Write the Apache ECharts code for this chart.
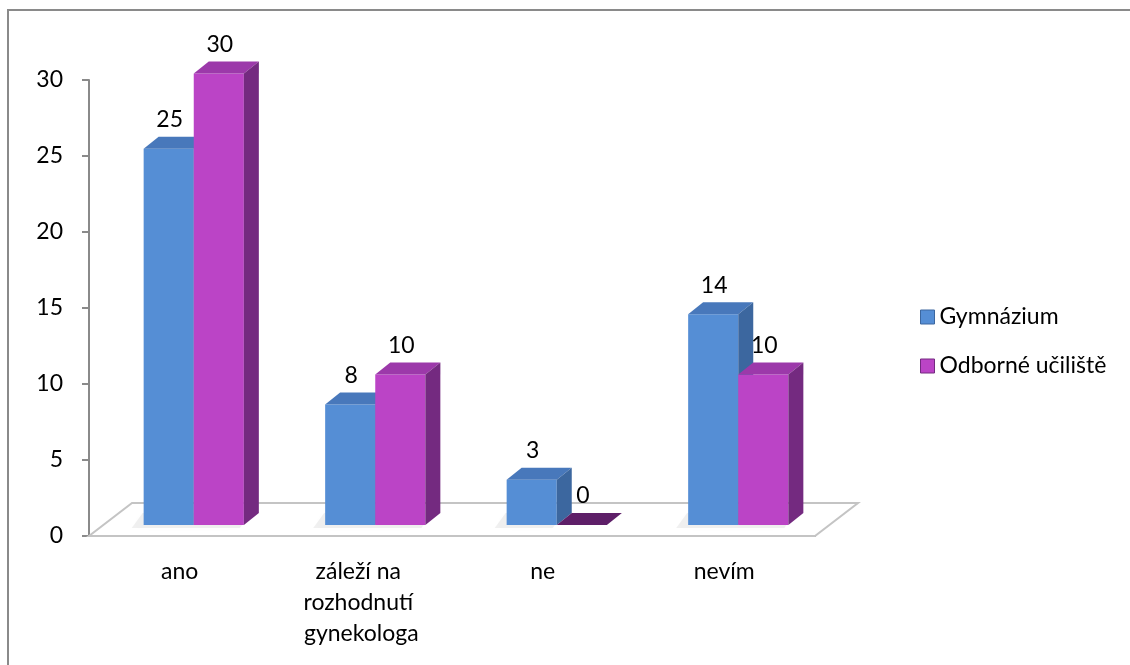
<!DOCTYPE html>
<html>
<head>
<meta charset="utf-8">
<script src="https://cdn.jsdelivr.net/npm/echarts@6/dist/echarts.min.js"></script>
<style>html,body{margin:0;padding:0;background:#fff}#c{width:1130px;height:665px}</style>
</head>
<body>
<div id="c"></div>
<script>
const categories = ['ano', 'záleží na rozhodnutí gynekologa', 'ne', 'nevím'];
const seriesNames = ['Gymnázium', 'Odborné učiliště'];
const gymnazium = [25, 8, 3, 14];
const odborne = [30, 10, 0, 10];
const yMin = 0, yMax = 30, yStep = 5;

const FONT = 'Lato';
const FS = 23;
const FRONT_DX = 14, FRONT_DY = -11;
const DEPTH_DX = 15, DEPTH_DY = -12;
const FLOOR_DX = 43, FLOOR_DY = -33;
const BAR_FRAC = 0.276;
const VAL_SCALE = 0.99;
const palette = [
  {front: '#558ED5', top: '#4878BB', side: '#3C679F', flat: '#2E4F7A'},
  {front: '#BB44C6', top: '#9C39AA', side: '#742A80', flat: '#5E1F68'}
];

function barGeom(params, api, side) {
  const idx = api.value(0), v = api.value(1);
  const base = api.coord([idx, 0]);
  const top = api.coord([idx, v]);
  const band = api.size([1, 0])[0];
  const bw = band * BAR_FRAC;
  const cx = base[0] + FRONT_DX;
  const x0 = side === 0 ? cx - bw : cx;
  const x1 = x0 + bw;
  const yb = base[1] + FRONT_DY;
  const yt = yb - (base[1] - top[1]) * VAL_SCALE;
  return {idx, v, x0, x1, yb, yt, bw};
}

function makeBarRenderer(side) {
  return function (params, api) {
    const g = barGeom(params, api, side);
    const c = palette[side];
    const children = [];
    const dx = DEPTH_DX, dy = DEPTH_DY;
    if (g.v === 0) {
      children.push({type: 'polygon', shape: {points: [[g.x0, g.yb], [g.x1, g.yb], [g.x1 + dx, g.yb + dy], [g.x0 + dx, g.yb + dy]]}, style: {fill: c.flat}});
    } else {
      children.push({type: 'rect', shape: {x: g.x0, y: g.yt, width: g.bw, height: g.yb - g.yt}, style: {fill: c.front}});
      children.push({type: 'polygon', shape: {points: [[g.x0, g.yt], [g.x1, g.yt], [g.x1 + dx, g.yt + dy], [g.x0 + dx, g.yt + dy]]}, style: {fill: c.top}});
      children.push({type: 'polygon', shape: {points: [[g.x1, g.yt], [g.x1 + dx, g.yt + dy], [g.x1 + dx, g.yb + dy], [g.x1, g.yb]]}, style: {fill: c.side}});
    }
    children.push({type: 'text', x: g.x0 + g.bw / 2 + 1, y: g.yt + dy - 17, style: {text: String(g.v), fill: '#000', font: FS + 'px ' + FONT, align: 'center', verticalAlign: 'middle'}});
    return {type: 'group', children};
  };
}

function shadowRenderer(params, api) {
  const idx = api.value(0);
  const base = api.coord([idx, 0]);
  const band = api.size([1, 0])[0];
  const bw = band * BAR_FRAC;
  const cx = base[0] + FRONT_DX;
  const x0 = cx - bw, x1 = cx + (api.value(2) === 0 ? 0 : bw);
  const yb = base[1] + FRONT_DY;
  return {type: 'polygon', shape: {points: [[x0 - 12, yb + 3], [x1 - 4, yb + 3], [x1 + DEPTH_DX - 8, yb + DEPTH_DY], [x0 + DEPTH_DX - 16, yb + DEPTH_DY]]},
    style: {fill: 'rgba(0,0,0,0.06)', shadowBlur: 12, shadowColor: 'rgba(0,0,0,0.22)'}};
}

function floorRenderer(params, api) {
  const cs = params.coordSys;
  const xl = cs.x, xr = cs.x + cs.width, yf = cs.y + cs.height;
  return {type: 'polygon', shape: {points: [[xl, yf], [xr, yf], [xr + FLOOR_DX, yf + FLOOR_DY], [xl + FLOOR_DX, yf + FLOOR_DY]]},
    style: {fill: '#fff', stroke: '#C4C4C4', lineWidth: 2}};
}

const chart = echarts.init(document.getElementById('c'), null, {renderer: 'canvas'});
chart.setOption({
  animation: false,
  backgroundColor: '#fff',
  textStyle: {fontFamily: FONT},
  graphic: [{type: 'rect', shape: {x: 8, y: 10, width: 1300, height: 800}, style: {fill: 'none', stroke: '#8A8A8A', lineWidth: 2}, z: 100}],
  grid: {left: 89, right: 315, top: 80, bottom: 129, containLabel: false},
  legend: {
    orient: 'vertical', left: 915, top: 299, itemWidth: 14, itemHeight: 14, itemGap: 23,
    textStyle: {fontFamily: FONT, fontSize: FS, color: '#000', lineHeight: 26},
    data: [
      {name: seriesNames[0], icon: 'rect', itemStyle: {color: '#558ED5', borderColor: '#3C679F', borderWidth: 1}},
      {name: seriesNames[1], icon: 'rect', itemStyle: {color: '#BB44C6', borderColor: '#742A80', borderWidth: 1}}
    ]
  },
  xAxis: {
    type: 'category', data: categories, boundaryGap: true,
    axisLine: {lineStyle: {color: '#8A8A8A', width: 2}},
    axisTick: {length: 7, lineStyle: {color: '#8A8A8A', width: 2}},
    axisLabel: {fontFamily: FONT, fontSize: FS, color: '#000', margin: 20, lineHeight: 31, width: 150, overflow: 'break', interval: 0}
  },
  yAxis: {
    type: 'value', min: yMin, max: yMax, interval: yStep,
    splitLine: {show: false},
    axisLine: {show: true, lineStyle: {color: '#8A8A8A', width: 2}},
    axisTick: {show: true, length: 7, lineStyle: {color: '#8A8A8A', width: 2}},
    axisLabel: {fontFamily: FONT, fontSize: FS, color: '#000', margin: 26}
  },
  series: [
    {type: 'custom', name: 'floor', renderItem: floorRenderer, data: [[0, 0]], z: 1, silent: true},
    {type: 'custom', name: 'shadow', renderItem: shadowRenderer, data: categories.map((c, i) => [i, gymnazium[i], odborne[i]]), encode: {x: 0, y: 1}, z: 2, silent: true},
    {type: 'custom', name: seriesNames[0], renderItem: makeBarRenderer(0), data: gymnazium.map((v, i) => [i, v]), encode: {x: 0, y: 1}, itemStyle: {color: '#558ED5'}, z: 3},
    {type: 'custom', name: seriesNames[1], renderItem: makeBarRenderer(1), data: odborne.map((v, i) => [i, v]), encode: {x: 0, y: 1}, itemStyle: {color: '#BB44C6'}, z: 4}
  ]
});
</script>
</body>
</html>
